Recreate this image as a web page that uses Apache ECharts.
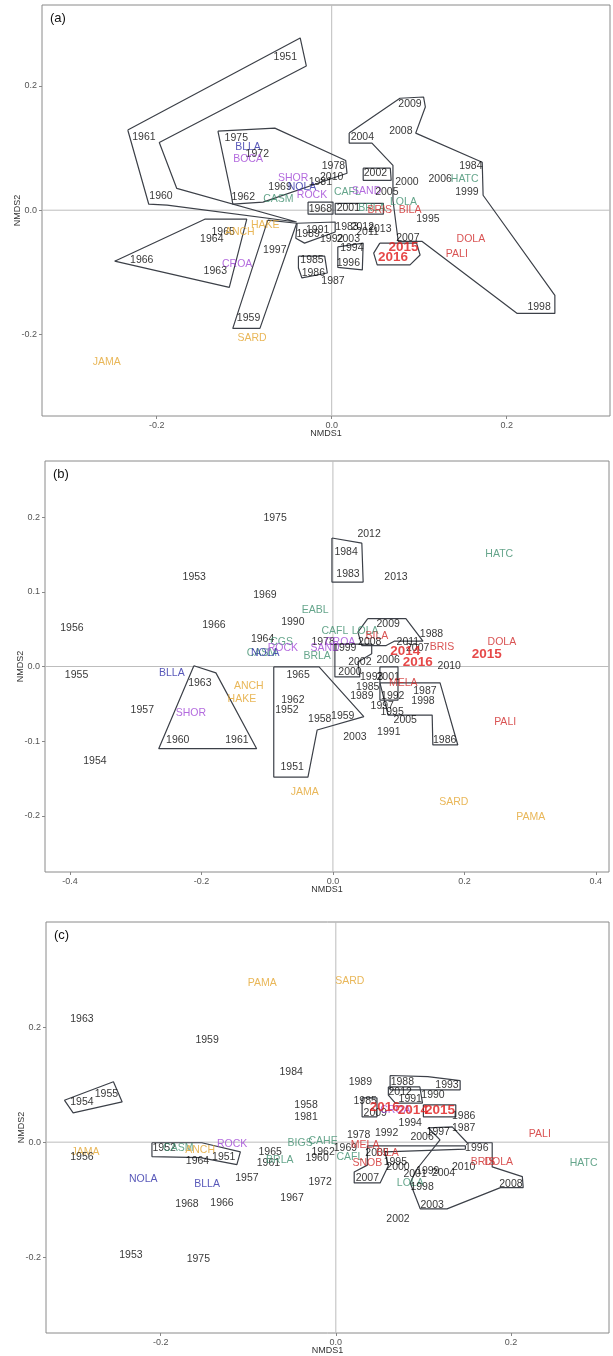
<!DOCTYPE html>
<html>
<head>
<meta charset="utf-8">
<script src="https://cdn.jsdelivr.net/npm/echarts@6/dist/echarts.min.js"></script>
<style>
  html, body { margin: 0; padding: 0; background: #fff; }
  #main { width: 613px; height: 1356px; }
</style>
</head>
<body>
<div id="main"></div>
<script>
// colours of the label groups
const groupColors = { y: '#000000', o: '#E3A52F', b: '#2E2EA8', p: '#A046D6', g: '#3E8E6E', r: '#D02828', R: '#E01A1A' };

// axis ranges and tick labels
const rangeA = { x: [-0.331, 0.318], y: [-0.331, 0.330] };
const rangeB = { x: [-0.438, 0.420], y: [-0.275, 0.275] };
const rangeC = { x: [-0.331, 0.312], y: [-0.332, 0.383] };
const ticksAX = [-0.2, 0, 0.2], ticksAY = [-0.2, 0, 0.2];
const ticksBX = [-0.4, -0.2, 0, 0.2, 0.4], ticksBY = [-0.2, -0.1, 0, 0.1, 0.2];
const ticksCX = [-0.2, 0, 0.2], ticksCY = [-0.2, 0, 0.2];

// panel (a) : [NMDS1, NMDS2, label, group]
const labelsA = [
  [-0.053, 0.246, '1951', 'y'], [-0.2145, 0.117, '1961', 'y'], [-0.195, 0.0225, '1960', 'y'],
  [-0.109, 0.116, '1975', 'y'], [-0.0956, 0.101, 'BLLA', 'b'], [-0.085, 0.090, '1972', 'y'],
  [-0.0956, 0.082, 'BOCA', 'p'], [-0.044, 0.0515, 'SHOR', 'p'], [-0.059, 0.037, '1969', 'y'],
  [-0.034, 0.037, 'NOLA', 'b'], [-0.0225, 0.024, 'ROCK', 'p'], [-0.101, 0.021, '1962', 'y'],
  [-0.061, 0.018, 'CASM', 'g'], [-0.013, 0.045, '1981', 'y'], [0.002, 0.071, '1978', 'y'],
  [0.0, 0.053, '2010', 'y'], [-0.013, 0.0016, '1968', 'y'], [0.018, 0.029, 'CAFL', 'g'],
  [0.040, 0.030, 'SAND', 'p'], [0.063, 0.029, '2005', 'y'], [0.050, 0.059, '2002', 'y'],
  [0.086, 0.045, '2000', 'y'], [0.019, 0.003, '2001', 'y'], [0.046, 0.003, 'BRLA', 'g'],
  [0.082, 0.013, 'LOLA', 'g'], [0.055, 0.0, 'BRIS', 'r'], [0.0895, 0.0, 'BILA', 'r'],
  [0.110, -0.0145, '1995', 'y'], [0.0175, -0.027, '1983', 'y'], [0.035, -0.027, '2012', 'y'],
  [0.041, -0.035, '2011', 'y'], [0.055, -0.031, '2013', 'y'], [-0.016, -0.032, '1991', 'y'],
  [-0.027, -0.0385, '1989', 'y'], [0.0, -0.047, '1992', 'y'], [0.019, -0.047, '2003', 'y'],
  [0.023, -0.061, '1994', 'y'], [0.019, -0.085, '1996', 'y'], [-0.0225, -0.080, '1985', 'y'],
  [-0.021, -0.101, '1986', 'y'], [0.0015, -0.114, '1987', 'y'], [-0.065, -0.064, '1997', 'y'],
  [0.087, -0.045, '2007', 'y'], [0.035, 0.117, '2004', 'y'], [0.0895, 0.170, '2009', 'y'],
  [0.079, 0.127, '2008', 'y'], [0.159, 0.0707, '1984', 'y'], [0.124, 0.050, '2006', 'y'],
  [0.152, 0.050, 'HATC', 'g'], [0.1545, 0.029, '1999', 'y'], [0.159, -0.047, 'DOLA', 'r'],
  [0.143, -0.071, 'PALI', 'r'], [0.237, -0.156, '1998', 'y'], [-0.137, -0.047, '1964', 'y'],
  [-0.124, -0.035, '1965', 'y'], [-0.105, -0.035, 'ANCH', 'o'], [-0.076, -0.024, 'HAKE', 'o'],
  [-0.217, -0.080, '1966', 'y'], [-0.108, -0.087, 'CROA', 'p'], [-0.133, -0.098, '1963', 'y'],
  [-0.095, -0.174, '1959', 'y'], [-0.091, -0.206, 'SARD', 'o'], [-0.257, -0.244, 'JAMA', 'o'],
  [0.082, -0.0595, '2015', 'R'], [0.070, -0.0755, '2016', 'R']
];
const hullsA = [
  [[-0.233, 0.129], [-0.036, 0.277], [-0.029, 0.232], [-0.197, 0.109], [-0.177, 0.035], [-0.040, -0.019], [-0.188, 0.008], [-0.209, 0.0096]],
  [[-0.130, 0.127], [-0.065, 0.132], [0.016, 0.080], [0.0175, 0.0595], [-0.0785, 0.013], [-0.113, 0.0096], [-0.115, 0.027]],
  [[-0.248, -0.082], [-0.145, -0.0145], [-0.097, -0.0145], [-0.117, -0.124]],
  [[-0.073, -0.016], [-0.040, -0.021], [-0.082, -0.190], [-0.113, -0.190]],
  [[-0.0395, -0.021], [0.004, -0.019], [0.004, -0.035], [-0.031, -0.053], [-0.041, -0.045]],
  [[-0.038, -0.074], [-0.008, -0.074], [-0.005, -0.101], [-0.034, -0.109], [-0.038, -0.093]],
  [[0.007, -0.059], [0.036, -0.053], [0.035, -0.096], [0.007, -0.092]],
  [[0.055, -0.053], [0.097, -0.053], [0.101, -0.072], [0.0895, -0.088], [0.052, -0.088], [0.048, -0.069]],
  [[0.020, 0.124], [0.078, 0.180], [0.105, 0.182], [0.107, 0.166], [0.096, 0.124], [0.172, 0.077], [0.173, 0.024],
   [0.255, -0.137], [0.255, -0.166], [0.212, -0.166], [0.103, -0.050], [0.076, -0.050], [0.070, 0.016],
   [0.070, 0.072], [0.046, 0.108], [0.020, 0.108]],
  [[0.036, 0.0675], [0.067, 0.0675], [0.068, 0.048], [0.036, 0.048]],
  [[-0.027, 0.013], [0.0015, 0.013], [0.0015, -0.0064], [-0.027, -0.0064]],
  [[0.004, 0.011], [0.059, 0.011], [0.059, -0.0064], [0.004, -0.0064]]
];

// panel (b)
const labelsB = [
  [-0.088, 0.199, '1975', 'y'], [-0.211, 0.120, '1953', 'y'], [-0.1035, 0.096, '1969', 'y'],
  [-0.397, 0.052, '1956', 'y'], [-0.181, 0.056, '1966', 'y'], [-0.061, 0.060, '1990', 'y'],
  [-0.027, 0.076, 'EABL', 'g'], [-0.107, 0.036, '1964', 'y'], [-0.078, 0.032, 'CGS', 'g'],
  [-0.108, 0.018, 'CASM', 'g'], [-0.103, 0.018, 'NOLA', 'b'], [-0.076, 0.024, 'ROCK', 'p'],
  [-0.245, -0.0085, 'BLLA', 'b'], [-0.390, -0.011, '1955', 'y'], [-0.2025, -0.022, '1963', 'y'],
  [-0.128, -0.026, 'ANCH', 'o'], [-0.1385, -0.043, 'HAKE', 'o'], [-0.216, -0.062, 'SHOR', 'p'],
  [-0.290, -0.059, '1957', 'y'], [-0.236, -0.099, '1960', 'y'], [-0.146, -0.098, '1961', 'y'],
  [-0.362, -0.127, '1954', 'y'], [-0.053, -0.011, '1965', 'y'], [-0.061, -0.045, '1962', 'y'],
  [-0.070, -0.058, '1952', 'y'], [-0.062, -0.134, '1951', 'y'], [-0.043, -0.168, 'JAMA', 'o'],
  [0.055, 0.1775, '2012', 'y'], [0.020, 0.153, '1984', 'y'], [0.023, 0.123, '1983', 'y'],
  [0.096, 0.119, '2013', 'y'], [0.253, 0.151, 'HATC', 'g'], [0.003, 0.048, 'CAFL', 'g'],
  [0.049, 0.048, 'LOLA', 'g'], [0.084, 0.057, '2009', 'y'], [0.150, 0.044, '1988', 'y'],
  [0.067, 0.040, 'BILA', 'r'], [0.056, 0.033, '2008', 'y'], [-0.015, 0.032, '1978', 'y'],
  [0.011, 0.032, 'CROA', 'p'], [0.018, 0.025, '1999', 'y'], [-0.012, 0.025, 'SAND', 'p'],
  [-0.024, 0.014, 'BRLA', 'g'], [0.114, 0.033, '2011', 'y'], [0.129, 0.025, '2007', 'y'],
  [0.166, 0.026, 'BRIS', 'r'], [0.084, 0.009, '2006', 'y'], [0.257, 0.033, 'DOLA', 'r'],
  [0.177, 0.0, '2010', 'y'], [0.041, 0.006, '2002', 'y'], [0.026, -0.007, '2000', 'y'],
  [0.059, -0.014, '1993', 'y'], [0.084, -0.014, '2001', 'y'], [0.107, -0.022, 'MELA', 'r'],
  [0.053, -0.028, '1985', 'y'], [0.044, -0.040, '1989', 'y'], [0.091, -0.040, '1992', 'y'],
  [0.140, -0.033, '1987', 'y'], [0.137, -0.046, '1998', 'y'], [0.075, -0.053, '1997', 'y'],
  [0.090, -0.061, '1995', 'y'], [0.110, -0.072, '2005', 'y'], [0.085, -0.088, '1991', 'y'],
  [0.170, -0.099, '1986', 'y'], [0.0335, -0.095, '2003', 'y'], [-0.020, -0.070, '1958', 'y'],
  [0.015, -0.067, '1959', 'y'], [0.262, -0.074, 'PALI', 'r'], [0.184, -0.182, 'SARD', 'o'],
  [0.301, -0.201, 'PAMA', 'o'],
  [0.110, 0.020, '2014', 'R'], [0.129, 0.006, '2016', 'R'], [0.234, 0.016, '2015', 'R']
];
const hullsB = [
  [[-0.2115, 0.001], [-0.178, -0.0085], [-0.116, -0.110], [-0.265, -0.110]],
  [[-0.090, -0.0004], [-0.021, -0.0004], [0.047, -0.067], [-0.024, -0.085], [-0.038, -0.148], [-0.090, -0.148]],
  [[-0.0015, 0.172], [0.044, 0.165], [0.046, 0.113], [-0.0015, 0.113]],
  [[0.0715, -0.022], [0.163, -0.022], [0.190, -0.105], [0.152, -0.105], [0.151, -0.065], [0.084, -0.065]],
  [[0.0715, -0.0004], [0.099, -0.0004], [0.099, -0.045], [0.0715, -0.045]],
  [[0.003, 0.030], [0.059, 0.030], [0.059, 0.017], [0.038, 0.006], [0.041, -0.014], [0.003, -0.014]],
  [[0.053, 0.064], [0.111, 0.064], [0.137, 0.034], [0.094, 0.034], [0.081, 0.028], [0.044, 0.028], [0.038, 0.046]]
];

// panel (c)
const labelsC = [
  [-0.084, 0.277, 'PAMA', 'o'], [0.016, 0.281, 'SARD', 'o'], [-0.290, 0.214, '1963', 'y'],
  [-0.147, 0.178, '1959', 'y'], [-0.051, 0.122, '1984', 'y'], [-0.262, 0.084, '1955', 'y'],
  [-0.290, 0.070, '1954', 'y'], [-0.034, 0.065, '1958', 'y'], [-0.034, 0.044, '1981', 'y'],
  [-0.1185, -0.003, 'ROCK', 'p'], [-0.286, -0.017, 'JAMA', 'o'], [-0.290, -0.026, '1956', 'y'],
  [-0.196, -0.010, '1952', 'y'], [-0.180, -0.010, 'CASM', 'g'], [-0.155, -0.013, 'ANCH', 'o'],
  [-0.158, -0.033, '1964', 'y'], [-0.128, -0.026, '1951', 'y'], [-0.075, -0.017, '1965', 'y'],
  [-0.077, -0.036, '1961', 'y'], [-0.064, -0.031, 'BRLA', 'g'], [-0.220, -0.064, 'NOLA', 'b'],
  [-0.147, -0.073, 'BLLA', 'b'], [-0.1015, -0.062, '1957', 'y'], [-0.170, -0.108, '1968', 'y'],
  [-0.130, -0.106, '1966', 'y'], [-0.050, -0.097, '1967', 'y'], [-0.234, -0.197, '1953', 'y'],
  [-0.157, -0.203, '1975', 'y'], [-0.0408, -0.001, 'BIGS', 'g'], [-0.0145, 0.002, 'CAHE', 'g'],
  [-0.0145, -0.017, '1962', 'y'], [-0.0214, -0.027, '1960', 'y'], [-0.018, -0.069, '1972', 'y'],
  [0.011, -0.010, '1969', 'y'], [0.028, 0.105, '1989', 'y'], [0.076, 0.105, '1988', 'y'],
  [0.127, 0.099, '1993', 'y'], [0.0735, 0.087, '2012', 'y'], [0.085, 0.075, '1991', 'y'],
  [0.111, 0.081, '1990', 'y'], [0.045, 0.051, '2009', 'y'], [0.0335, 0.072, '1985', 'y'],
  [0.068, 0.056, 'CROA', 'p'], [0.146, 0.046, '1986', 'y'], [0.146, 0.025, '1987', 'y'],
  [0.085, 0.033, '1994', 'y'], [0.117, 0.018, '1997', 'y'], [0.0985, 0.009, '2006', 'y'],
  [0.026, 0.012, '1978', 'y'], [0.058, 0.016, '1992', 'y'], [0.233, 0.014, 'PALI', 'r'],
  [0.0335, -0.006, 'MELA', 'r'], [0.016, -0.026, 'CAFL', 'g'], [0.047, -0.019, '2005', 'y'],
  [0.059, -0.019, 'BILA', 'r'], [0.036, -0.036, 'SNOB', 'r'], [0.068, -0.034, '1995', 'y'],
  [0.071, -0.044, '2000', 'y'], [0.0905, -0.055, '2001', 'y'], [0.105, -0.051, '1999', 'y'],
  [0.123, -0.053, '2004', 'y'], [0.146, -0.044, '2010', 'y'], [0.168, -0.035, 'BRIS', 'r'],
  [0.186, -0.035, 'DOLA', 'r'], [0.036, -0.062, '2007', 'y'], [0.085, -0.071, 'LOLA', 'g'],
  [0.0985, -0.078, '1998', 'y'], [0.110, -0.109, '2003', 'y'], [0.071, -0.134, '2002', 'y'],
  [0.161, -0.010, '1996', 'y'], [0.200, -0.073, '2008', 'y'], [0.283, -0.036, 'HATC', 'g'],
  [0.056, 0.061, '2016', 'R'], [0.088, 0.056, '2014', 'R'], [0.119, 0.056, '2015', 'R']
];
const hullsC = [
  [[-0.310, 0.073], [-0.254, 0.105], [-0.244, 0.070], [-0.300, 0.051]],
  [[-0.210, -0.001], [-0.153, -0.001], [-0.109, -0.017], [-0.113, -0.039], [-0.155, -0.027], [-0.210, -0.025]],
  [[0.062, 0.116], [0.105, 0.114], [0.142, 0.107], [0.142, 0.091], [0.062, 0.091]],
  [[0.030, 0.077], [0.047, 0.077], [0.047, 0.044], [0.030, 0.044]],
  [[0.060, 0.096], [0.096, 0.096], [0.099, 0.068], [0.068, 0.068], [0.060, 0.082]],
  [[0.100, 0.065], [0.137, 0.065], [0.137, 0.044], [0.100, 0.044]],
  [[0.1055, 0.025], [0.133, 0.0266], [0.150, -0.001], [0.1786, -0.001], [0.1786, -0.043], [0.213, -0.060],
   [0.214, -0.079], [0.188, -0.079], [0.127, -0.116], [0.0964, -0.116], [0.085, -0.071], [0.092, -0.048], [0.119, 0.004]],
  [[0.036, -0.0064], [0.148, -0.0064], [0.148, -0.012], [0.056, -0.017], [0.060, -0.041], [0.0506, -0.071],
   [0.021, -0.071], [0.021, -0.052], [0.036, -0.040]]
];

const FONT = 'Liberation Sans, Arial, sans-serif';
const panels = [
  { tag: '(a)', labels: labelsA, hulls: hullsA, range: rangeA, tx: ticksAX, ty: ticksAY, box: { left: 42, top: 5, width: 568, height: 411 } },
  { tag: '(b)', labels: labelsB, hulls: hullsB, range: rangeB, tx: ticksBX, ty: ticksBY, box: { left: 45, top: 461, width: 564, height: 411 } },
  { tag: '(c)', labels: labelsC, hulls: hullsC, range: rangeC, tx: ticksCX, ty: ticksCY, box: { left: 46, top: 922, width: 563, height: 411 } }
];

const grid = [], xAxis = [], yAxis = [], series = [], graphic = [];

panels.forEach(function (p, i) {
  grid.push(Object.assign({ show: true, borderColor: '#8a8a8a', borderWidth: 1, backgroundColor: '#fff',
    containLabel: false, outerBoundsMode: 'none' }, p.box));
  const axisCommon = function (range, ticks, name) {
    return {
      type: 'value', gridIndex: i, min: range[0], max: range[1],
      name: name, nameLocation: 'middle', nameMoveOverlap: false,
      nameTextStyle: { fontSize: 9, color: '#333', fontFamily: FONT },
      axisLine: { show: false, onZero: false },
      axisTick: { show: true, length: 3, customValues: ticks, lineStyle: { color: '#888' } },
      axisLabel: { customValues: ticks, fontSize: 9, color: '#555', fontFamily: FONT, margin: 5,
        formatter: function (v) { return v.toFixed(1); } },
      splitLine: { show: false }
    };
  };
  xAxis.push(Object.assign(axisCommon(p.range.x, p.tx, 'NMDS1'), { nameGap: 13 }));
  yAxis.push(Object.assign(axisCommon(p.range.y, p.ty, 'NMDS2'), { nameGap: 20 }));

  // zero reference lines
  series.push({ type: 'line', xAxisIndex: i, yAxisIndex: i, symbol: 'none', silent: true, z: 1,
    lineStyle: { color: '#bdbdbd', width: 1 }, data: [[p.range.x[0], 0], [p.range.x[1], 0]] });
  series.push({ type: 'line', xAxisIndex: i, yAxisIndex: i, symbol: 'none', silent: true, z: 1,
    lineStyle: { color: '#bdbdbd', width: 1 }, data: [[0, p.range.y[0]], [0, p.range.y[1]]] });

  // hull polygons
  p.hulls.forEach(function (h) {
    series.push({ type: 'line', xAxisIndex: i, yAxisIndex: i, symbol: 'none', silent: true, z: 2,
      lineStyle: { color: '#3c4048', width: 1.2 }, data: h.concat([h[0]]) });
  });

  // text labels
  series.push({
    type: 'scatter', xAxisIndex: i, yAxisIndex: i, symbolSize: 1, z: 5,
    itemStyle: { color: 'rgba(0,0,0,0)' },
    label: { show: true, position: 'inside', fontFamily: FONT, fontSize: 10.5,
      formatter: function (d) { return d.name; } },
    data: p.labels.map(function (l) {
      const bold = l[3] === 'R';
      return { value: [l[0], l[1]], name: l[2],
        label: { color: groupColors[l[3]], fontSize: bold ? 13.5 : 10.5, fontWeight: bold ? 'bold' : 'normal' } };
    })
  });

  graphic.push({ type: 'text', left: p.box.left + 8, top: p.box.top + 7,
    style: { text: p.tag, fontSize: 13, fontFamily: FONT, fill: '#111' } });
});

const chart = echarts.init(document.getElementById('main'));
chart.setOption({ animation: false, grid: grid, xAxis: xAxis, yAxis: yAxis, series: series, graphic: graphic });
</script>
</body>
</html>
